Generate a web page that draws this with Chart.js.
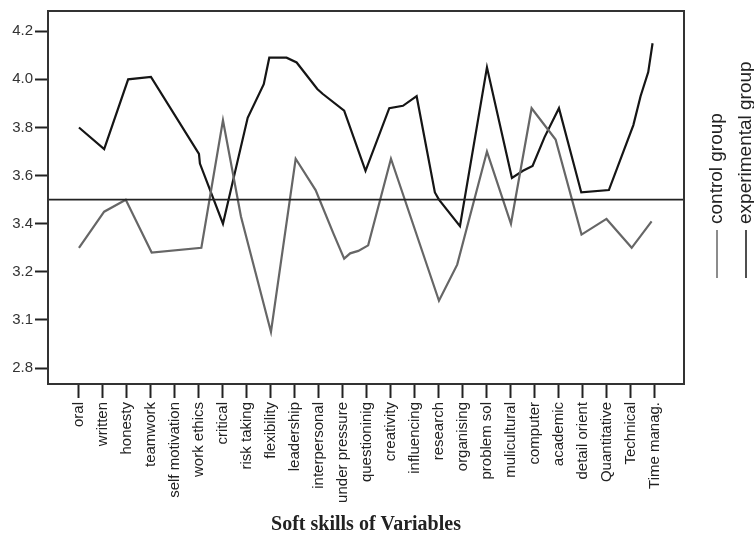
<!DOCTYPE html>
<html>
<head>
<meta charset="utf-8">
<script src="https://cdn.jsdelivr.net/npm/chart.js@4.4.1/dist/chart.umd.min.js"></script>
<style>
    body { margin: 0; background: #fff; }
    #wrap { width: 754px; height: 538px; }
</style>
</head>
<body>
<div id="wrap"><canvas id="skillsChart" width="754" height="538"></canvas></div>
<script>
const categories = [
    "oral", "written", "honesty", "teamwork", "self motivation", "work ethics",
    "critical", "risk taking", "flexibility", "leadership", "interpersonal",
    "under pressure", "questioninig", "creativity", "influencing", "research",
    "organising", "problem sol", "mulicultural", "computer", "academic",
    "detail orient", "Quantitative", "Technical", "Time manag."
];

// tick values on the y axis and the labels printed next to them (as in the source figure)
const yTickValues = [2.8, 3.0, 3.2, 3.4, 3.6, 3.8, 4.0, 4.2];
const yTickLabels = ["2.8", "3.1", "3.2", "3.4", "3.6", "3.8", "4.0", "4.2"];
const refLevel = 3.5;

// experimental group: category index of each vertex, and its value
const expAt = [0, 1.05, 2.05, 3, 5.0, 5.04, 6, 7.03, 7.7, 7.93, 8.65, 9.07, 9.93, 10.15,
    11.05, 11.94, 12.93, 13.5, 14.07, 14.83, 15.0, 15.875, 17, 18.04, 18.5, 18.9, 19.4,
    20, 20.93, 22.08, 23.1, 23.4, 23.72, 23.9];
const expValues = [3.80, 3.71, 4.00, 4.01, 3.69, 3.65, 3.40, 3.84, 3.98, 4.09, 4.09, 4.07, 3.96, 3.94,
    3.87, 3.62, 3.88, 3.89, 3.93, 3.53, 3.50, 3.39, 4.05, 3.59, 3.62, 3.64, 3.76,
    3.88, 3.53, 3.54, 3.81, 3.93, 4.03, 4.15];

// control group
const ctrlAt = [0, 1.05, 1.95, 3.03, 5.1, 6, 6.75, 8, 9.03, 9.86, 10.6, 11.05, 11.3, 11.64,
    12.05, 13, 15, 15.76, 17, 18, 18.86, 19.86, 20.94, 21.98, 23.03, 23.86];
const ctrlValues = [3.30, 3.45, 3.50, 3.28, 3.30, 3.83, 3.43, 2.95, 3.67, 3.54, 3.36, 3.255, 3.277, 3.287,
    3.31, 3.67, 3.08, 3.23, 3.70, 3.40, 3.88, 3.75, 3.355, 3.42, 3.30, 3.41];

const seriesLabels = ["control group", "experimental group"];

function toPoints(at, values) {
    return at.map(function (x, k) {
        return { x: x, y: values[k] };
    });
}

const frameAndRefLine = {
    id: "frameAndRefLine",
    afterDatasetsDraw(chart) {
        const { ctx, chartArea } = chart;
        const y = chart.scales.y.getPixelForValue(refLevel);
        ctx.save();
        ctx.strokeStyle = "#222";
        ctx.lineWidth = 1.6;
        ctx.beginPath();
        ctx.moveTo(chartArea.left, y);
        ctx.lineTo(chartArea.right, y);
        ctx.stroke();
        ctx.lineWidth = 2;
        ctx.strokeStyle = "#333";
        ctx.strokeRect(chartArea.left, chartArea.top, chartArea.right - chartArea.left, chartArea.bottom - chartArea.top);
        ctx.restore();
    }
};

// vertical legend on the right, text reading upwards
const sideLegend = {
    id: "sideLegend",
    afterDraw(chart) {
        const { ctx, chartArea } = chart;
        const columns = [chartArea.right + 33, chartArea.right + 62];
        ctx.save();
        chart.data.datasets.forEach(function (ds, k) {
            const x = columns[k];
            ctx.strokeStyle = ds.borderColor;
            ctx.lineWidth = 1.5;
            ctx.beginPath();
            ctx.moveTo(x, 278);
            ctx.lineTo(x, 230);
            ctx.stroke();
            ctx.translate(x, 224);
            ctx.rotate(-Math.PI / 2);
            ctx.fillStyle = "#222";
            ctx.font = "19px 'Liberation Sans', Arial, sans-serif";
            ctx.textAlign = "left";
            ctx.textBaseline = "middle";
            ctx.fillText(ds.label, 0, 0);
            ctx.setTransform(1, 0, 0, 1, 0, 0);
        });
        ctx.restore();
    }
};

const ctx = document.getElementById("skillsChart");
new Chart(ctx.getContext("2d"), {
    type: "line",
    data: {
        datasets: [
            {
                label: seriesLabels[0],
                data: toPoints(ctrlAt, ctrlValues),
                borderColor: "#666",
                borderWidth: 2.2,
                pointRadius: 0,
                tension: 0,
            },
            {
                label: seriesLabels[1],
                data: toPoints(expAt, expValues),
                borderColor: "#151515",
                borderWidth: 2.2,
                pointRadius: 0,
                tension: 0,
            },
        ],
    },
    options: {
        responsive: false,
        devicePixelRatio: 1,
        animation: false,
        layout: {
            padding: { top: 8, right: 70, left: 0, bottom: 0 },
        },
        scales: {
            x: {
                type: "linear",
                min: -1.29,
                max: 25.21,
                afterBuildTicks: function (scale) {
                    scale.ticks = categories.map(function (c, i) {
                        return { value: i };
                    });
                },
                afterFit: function (scale) {
                    scale.height = 154;
                },
                border: { display: false },
                grid: {
                    drawOnChartArea: false,
                    drawTicks: true,
                    tickLength: 14,
                    tickWidth: 2,
                    tickColor: "#222",
                },
                ticks: {
                    autoSkip: false,
                    minRotation: 90,
                    maxRotation: 90,
                    padding: 4,
                    color: "#222",
                    font: { family: "'Liberation Sans', Arial, sans-serif", size: 15 },
                    callback: function (value) {
                        return categories[value];
                    },
                },
                title: {
                    display: true,
                    text: "Soft skills of Variables",
                    color: "#222",
                    padding: { top: 0, bottom: 1 },
                    font: { family: "'Liberation Serif', 'Times New Roman', serif", size: 20, weight: "bold" },
                },
            },
            y: {
                min: 2.734,
                max: 4.284,
                afterBuildTicks: function (scale) {
                    scale.ticks = yTickValues.map(function (v) {
                        return { value: v };
                    });
                },
                afterFit: function (scale) {
                    scale.width = 48;
                },
                border: { display: false },
                grid: {
                    drawOnChartArea: false,
                    drawTicks: true,
                    tickLength: 13,
                    tickWidth: 2,
                    tickColor: "#222",
                },
                ticks: {
                    padding: 2,
                    color: "#333",
                    font: { family: "'Liberation Sans', Arial, sans-serif", size: 15 },
                    callback: function (value, index) {
                        return yTickLabels[index];
                    },
                },
            },
        },
        plugins: {
            legend: { display: false },
            tooltip: { enabled: false },
        },
    },
    plugins: [frameAndRefLine, sideLegend],
});
</script>
</body>
</html>
